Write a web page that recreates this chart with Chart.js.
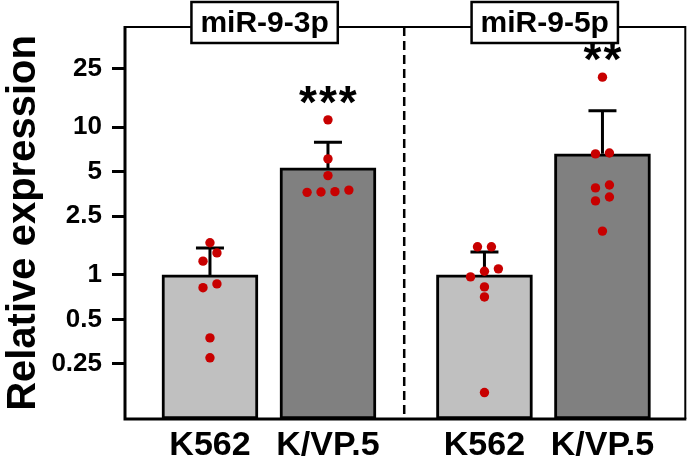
<!DOCTYPE html>
<html><head><meta charset="utf-8">
<script src="https://cdn.jsdelivr.net/npm/chart.js@4/dist/chart.umd.min.js"></script>
<style>html,body{margin:0;padding:0;background:#fff}</style>
</head><body>
<canvas id="c" width="690" height="458"></canvas>
<script>
// ---- data ----
const panels = ['miR-9-3p', 'miR-9-5p'];
const categories = ['K562', 'K/VP.5', 'K562', 'K/VP.5'];
const means = [1, 5.3, 1, 6.6];
const errUpper = [1.52, 7.9, 1.43, 12.9];
const significance = ['', '***', '', '**'];
const pts3pK562 = [1.65, 1.41, 1.24, 0.87, 0.82, 0.375, 0.275];
const pts3pKVP = [11.2, 6.1, 4.7, 3.75, 3.66, 3.64, 3.62];
const pts5pK562 = [1.55, 1.55, 1.10, 1.06, 0.97, 0.83, 0.71, 0.16];
const pts5pKVP = [21.8, 6.69, 6.59, 4.06, 3.88, 3.37, 3.17, 1.98];
const yTicks = [0.25, 0.5, 1, 2.5, 5, 10, 25];
const yTitle = 'Relative expression';

// ---- layout constants ----
const Y_MIN = 0.106, Y_MAX = 47.6;
const X_MIN = 0.28, X_MAX = 5.028;
const GROUP_GAP = 0.326;
const SPREAD = 0.118;
const CLUSTER = 0.058;
const FONT = "'Liberation Sans', Arial, Helvetica, sans-serif";

const pointSets = [pts3pK562, pts3pKVP, pts5pK562, pts5pKVP];
const pos = categories.map((c, i) => i + 1 + Math.floor(i / 2) * GROUP_GAP);

function swarm(vals, cx) {
  const s = vals.slice().sort((a, b) => a - b);
  const out = [];
  let cl = [s[0]];
  const flush = () => cl.forEach((v, j) => out.push({x: cx + (j - (cl.length - 1) / 2) * SPREAD, y: v}));
  for (let j = 1; j < s.length; j++) {
    if (Math.log10(s[j]) - Math.log10(s[j - 1]) < CLUSTER) cl.push(s[j]);
    else { flush(); cl = [s[j]]; }
  }
  flush();
  return out;
}
const dots = [];
pointSets.forEach((arr, i) => dots.push(...swarm(arr, pos[i])));

const decor = {
  id: 'decor',
  beforeDatasetsDraw(chart) {
    const {ctx, chartArea: a, scales: {x}} = chart;
    const sx = x.getPixelForValue((pos[1] + pos[2]) / 2) - 2;
    ctx.save();
    ctx.strokeStyle = '#000'; ctx.lineWidth = 2.5; ctx.setLineDash([9, 5]);
    ctx.beginPath(); ctx.moveTo(sx, a.top); ctx.lineTo(sx, a.bottom); ctx.stroke();
    ctx.restore();
  },
  afterDatasetDraw(chart, args) {
    if (args.index !== 0) return;
    const {ctx, scales: {x, y}} = chart;
    ctx.save();
    ctx.strokeStyle = '#000'; ctx.lineWidth = 3;
    pos.forEach((p, i) => {
      const px = x.getPixelForValue(p);
      const yb = y.getPixelForValue(means[i]);
      const yt = y.getPixelForValue(errUpper[i]);
      ctx.beginPath();
      ctx.moveTo(px, yb); ctx.lineTo(px, yt);
      ctx.moveTo(px - 14, yt); ctx.lineTo(px + 14, yt);
      ctx.stroke();
    });
    ctx.restore();
  },
  afterDatasetsDraw(chart) {
    const {ctx, chartArea: a, scales: {x, y}} = chart;
    ctx.save();
    ctx.strokeStyle = '#000';
    ctx.lineWidth = 2;
    ctx.beginPath();
    ctx.moveTo(a.left, a.top); ctx.lineTo(a.right, a.top); ctx.lineTo(a.right, a.bottom);
    ctx.stroke();
    ctx.lineWidth = 3;
    ctx.beginPath();
    ctx.moveTo(a.left, a.top - 1); ctx.lineTo(a.left, a.bottom); ctx.lineTo(a.right + 1, a.bottom);
    ctx.stroke();
    // significance stars
    ctx.fillStyle = '#000';
    ctx.font = 'bold 46px ' + FONT;
    if ('letterSpacing' in ctx) ctx.letterSpacing = '2px';
    ctx.textAlign = 'left'; ctx.textBaseline = 'alphabetic';
    significance.forEach((s, i) => {
      if (!s) return;
      const top = Math.max(errUpper[i], ...pointSets[i]);
      const py = y.getPixelForValue(top) - 16;
      const m = ctx.measureText(s);
      const inkW = m.actualBoundingBoxRight + m.actualBoundingBoxLeft;
      const px = x.getPixelForValue(pos[i]);
      ctx.fillText(s, px - inkW / 2 + m.actualBoundingBoxLeft, py - m.actualBoundingBoxDescent);
    });
    ctx.restore();
  },
  afterDraw(chart) {
    const {ctx, chartArea: a, scales: {x}} = chart;
    const sx = x.getPixelForValue((pos[1] + pos[2]) / 2) - 2;
    const centers = [(a.left + sx) / 2, (sx + a.right) / 2];
    ctx.save();
    ctx.font = 'bold 30px ' + FONT;
    ctx.textAlign = 'center'; ctx.textBaseline = 'middle';
    panels.forEach((t, i) => {
      const w = ctx.measureText(t).width + 18, h = 41;
      const cx = centers[i], cy = 22.5;
      ctx.fillStyle = '#fff';
      ctx.fillRect(cx - w / 2, cy - h / 2, w, h);
      ctx.strokeStyle = '#000'; ctx.lineWidth = 2.5;
      ctx.strokeRect(cx - w / 2, cy - h / 2, w, h);
      ctx.fillStyle = '#000';
      ctx.fillText(t, cx, cy + 1);
    });
    ctx.restore();
  }
};

new Chart(document.getElementById('c'), {
  type: 'bar',
  data: {
    datasets: [
      {
        type: 'bar',
        data: pos.map((p, i) => ({x: p, y: means[i]})),
        backgroundColor: ['#c0c0c0', '#808080', '#c0c0c0', '#808080'],
        borderColor: '#000',
        borderWidth: 3,
        borderSkipped: false,
        barThickness: 96,
        order: 2
      },
      {
        type: 'scatter',
        data: dots,
        backgroundColor: '#c80000',
        borderColor: '#c80000',
        borderWidth: 0,
        pointRadius: 4.7,
        order: 1
      }
    ]
  },
  plugins: [decor],
  options: {
    responsive: false,
    animation: false,
    devicePixelRatio: 1,
    layout: {padding: {top: 27, right: 4, left: 0, bottom: 0}},
    plugins: {legend: {display: false}, tooltip: {enabled: false}},
    scales: {
      x: {
        type: 'linear', min: X_MIN, max: X_MAX, offset: false,
        grid: {display: false, offset: false},
        border: {display: false},
        afterBuildTicks: s => { s.ticks = pos.map(v => ({value: v})); },
        afterFit: s => { s.height = 39; },
        ticks: {
          autoSkip: false, maxRotation: 0, padding: -2, color: '#000',
          font: {family: FONT, size: 34, weight: 'bold'},
          callback: (v, i) => categories[i]
        }
      },
      y: {
        type: 'logarithmic', min: Y_MIN, max: Y_MAX,
        grid: {display: true, drawOnChartArea: false, drawTicks: true, tickLength: 13, tickWidth: 3, tickColor: '#000'},
        border: {display: false},
        afterBuildTicks: s => { s.ticks = yTicks.map(v => ({value: v})); },
        afterFit: s => { s.width = 125; },
        title: {display: true, text: yTitle, color: '#000', padding: {top: 0, bottom: 0},
                font: {family: FONT, size: 40, weight: 'bold'}},
        ticks: {
          padding: 10, color: '#000', autoSkip: false,
          font: {family: FONT, size: 26, weight: 'bold'},
          callback: v => String(v)
        }
      }
    }
  }
});
</script>
</body></html>
